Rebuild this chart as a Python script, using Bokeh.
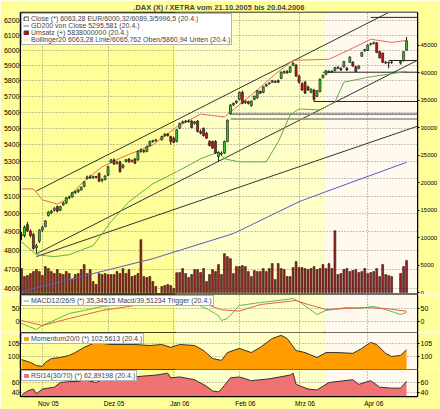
import numpy as np
import pandas as pd
from bokeh.plotting import figure
from bokeh.layouts import column
from bokeh.models import (Range1d, LinearAxis, LinearScale, FixedTicker,
                          NumeralTickFormatter, Legend, LegendItem,
                          BoxAnnotation, Label, ColumnDataSource)
from bokeh.embed import file_html
from bokeh.resources import INLINE

FONT = "Liberation Sans"
TITLE = ".DAX (X) / XETRA vom 21.10.2005 bis 20.04.2006"
START, END = "2005-10-21", "2006-04-20"
HOLIDAYS = ["2005-12-26", "2006-04-14", "2006-04-17"]

# ---------------- daily OHLC (EUR) and turnover (Mio) ----------------
open_ = [4880, 4880, 4940, 4905, 4885, 4815, 4850, 4910, 4930, 4990,
         5005, 5020, 5040, 5020, 5050, 5060, 5090, 5095, 5120, 5125,
         5135, 5155, 5200, 5210, 5205, 5212, 5230, 5190, 5195, 5220,
         5295, 5310, 5290, 5298, 5265, 5300, 5315, 5300, 5315, 5310,
         5360, 5365, 5360, 5395, 5420, 5425, 5430, 5455, 5465, 5450,
         5440, 5420, 5500, 5535, 5540, 5545, 5545, 5530, 5545, 5480,
         5500, 5470, 5420, 5420, 5420, 5330, 5345, 5350, 5420, 5590,
         5645, 5660, 5680, 5725, 5660, 5665, 5640, 5680, 5690, 5730,
         5725, 5765, 5780, 5790, 5795, 5800, 5815, 5850, 5860, 5855,
         5900, 5900, 5830, 5780, 5790, 5760, 5725, 5740, 5700, 5730,
         5820, 5840, 5855, 5860, 5865, 5880, 5880, 5890, 5880, 5920,
         5920, 5890, 5880, 5960, 5995, 6000, 6040, 6045, 6050, 5990,
         5980, 5920, 5915, 5918, 5915, 5930, 6000.32]
high = [4900, 4935, 4955, 4915, 4895, 4835, 4915, 4935, 4965, 5015,
        5022, 5038, 5048, 5045, 5068, 5095, 5102, 5125, 5132, 5140,
        5155, 5185, 5218, 5222, 5218, 5216, 5236, 5200, 5220, 5275,
        5315, 5318, 5302, 5305, 5285, 5315, 5320, 5312, 5322, 5365,
        5378, 5372, 5395, 5425, 5430, 5435, 5455, 5470, 5470, 5455,
        5450, 5495, 5535, 5548, 5552, 5555, 5552, 5545, 5550, 5492,
        5505, 5478, 5428, 5425, 5428, 5360, 5360, 5425, 5555, 5650,
        5660, 5675, 5730, 5735, 5675, 5672, 5675, 5705, 5740, 5738,
        5765, 5780, 5790, 5805, 5802, 5808, 5860, 5866, 5868, 5895,
        5920, 5910, 5840, 5790, 5800, 5768, 5750, 5748, 5740, 5815,
        5840, 5870, 5868, 5870, 5890, 5895, 5888, 5930, 5890, 5960,
        5928, 5898, 5900, 5990, 6010, 6040, 6050, 6058, 6055, 5998,
        5985, 5930, 5925, 5928, 5935, 5995, 6089.3]
low = [4855, 4870, 4900, 4870, 4805, 4785, 4840, 4900, 4925, 4985,
       4998, 5012, 5008, 5015, 5045, 5055, 5082, 5090, 5112, 5118,
       5130, 5150, 5195, 5198, 5200, 5202, 5180, 5178, 5190, 5215,
       5290, 5280, 5282, 5235, 5258, 5295, 5292, 5295, 5285, 5305,
       5352, 5350, 5355, 5390, 5412, 5418, 5425, 5448, 5450, 5400,
       5410, 5415, 5495, 5528, 5532, 5535, 5500, 5522, 5475, 5462,
       5450, 5435, 5390, 5375, 5345, 5300, 5335, 5345, 5415, 5585,
       5638, 5652, 5675, 5650, 5652, 5648, 5635, 5675, 5685, 5715,
       5720, 5760, 5775, 5785, 5785, 5785, 5810, 5845, 5845, 5850,
       5895, 5825, 5780, 5735, 5715, 5735, 5720, 5665, 5695, 5725,
       5815, 5835, 5848, 5850, 5860, 5875, 5862, 5885, 5862, 5915,
       5890, 5855, 5875, 5955, 5990, 5995, 6032, 6040, 5980, 5945,
       5915, 5908, 5880, 5910, 5905, 5925, 5996.5]
close = [4885, 4926, 4905, 4880, 4810, 4825, 4910, 4925, 4960, 5010,
         5015, 5030, 5015, 5040, 5060, 5090, 5095, 5120, 5125, 5135,
         5150, 5180, 5210, 5205, 5212, 5208, 5185, 5195, 5215, 5270,
         5310, 5285, 5298, 5240, 5280, 5310, 5298, 5305, 5290, 5360,
         5370, 5360, 5390, 5420, 5425, 5430, 5450, 5465, 5455, 5420,
         5415, 5490, 5530, 5540, 5545, 5540, 5505, 5540, 5480, 5470,
         5455, 5440, 5395, 5380, 5350, 5355, 5350, 5420, 5550, 5645,
         5655, 5670, 5725, 5655, 5670, 5655, 5670, 5700, 5735, 5720,
         5760, 5775, 5785, 5800, 5790, 5790, 5855, 5860, 5850, 5890,
         5915, 5830, 5790, 5740, 5720, 5740, 5745, 5680, 5735, 5810,
         5835, 5865, 5860, 5855, 5885, 5887, 5870, 5925, 5870, 5955,
         5895, 5860, 5895, 5985, 6005, 6035, 6045, 6050, 5985, 5950,
         5920, 5915, 5920, 5922, 5925, 5990, 6063.28]
volume = [4355, 2903, 3085, 3448, 3810, 4173, 3810, 3085, 4718, 4355,
          3810, 3448, 4173, 3448, 3266, 3810, 3448, 2359, 3266, 3448,
          4173, 5080, 3448, 4173, 1996, 1452, 3448, 3266, 3448, 3266,
          3266, 3266, 3810, 3448, 4355, 3448, 4173, 2903, 3085, 3448,
          9617, 2903, 2722, 2903, 1996, 1089, 1089, 1270, 1452, 1270,
          726, 3600, 3629, 4355, 3448, 2722, 3266, 4173, 4173, 3629,
          4355, 1996, 3266, 4173, 3810, 5080, 3266, 7077, 6532, 6169,
          3448, 4718, 4718, 4900, 4718, 3810, 2903, 3990, 3810, 3810,
          4355, 3810, 4355, 5262, 2359, 5262, 4355, 4173, 2903, 2903,
          4536, 5625, 4536, 4536, 4355, 4173, 4355, 4718, 4173, 4355,
          5080, 4355, 5262, 4355, 11250, 3266, 3448, 4173, 4355, 3810,
          3990, 4173, 3629, 3810, 4355, 3448, 3629, 3810, 4355, 2903,
          5080, 3266, 3085, 2903, 3448, 4718, 5838]

# ---------------- overlays ----------------
gd200_dates = ["2005-10-21", "2005-12-22", "2006-01-30", "2006-03-01", "2006-03-14", "2006-04-20"]
gd200 = [4585, 4756, 4891, 5068, 5125, 5295.58]

boll_up_dates = ["2005-10-21", "2005-10-27", "2005-11-01", "2005-11-08", "2005-11-11", "2005-11-18",
                 "2005-11-29", "2005-12-08", "2005-12-22", "2006-01-03", "2006-01-13", "2006-01-25",
                 "2006-02-07", "2006-02-17", "2006-02-27", "2006-03-15", "2006-03-22", "2006-04-04",
                 "2006-04-13", "2006-04-20"]
boll_up = [5141, 5141, 5078, 5055, 5078, 5170, 5269, 5328, 5399, 5508, 5588, 5570,
           5708, 5842, 5933, 5940, 5986, 6074, 6053, 6065.76]
boll_lo_dates = ["2005-10-21", "2005-10-28", "2005-11-07", "2005-11-14", "2005-11-24", "2005-12-02",
                 "2005-12-12", "2005-12-22", "2006-01-03", "2006-01-13", "2006-01-23", "2006-01-25",
                 "2006-02-01", "2006-02-14", "2006-02-20", "2006-02-24", "2006-03-01", "2006-03-10",
                 "2006-03-17", "2006-03-22", "2006-04-03", "2006-04-12", "2006-04-20"]
boll_lo = [4847, 4777, 4767, 4777, 4826, 4956, 5068, 5170, 5240, 5316, 5357, 5316,
           5298, 5298, 5417, 5582, 5620, 5614, 5663, 5790, 5822, 5842, 5860.94]

# trend lines: (start date, start price, end date, end price)
trend_lines = [("2005-10-28", 5129, "2006-04-12", 6258),
               ("2005-10-28", 4782, "2006-04-26", 5937),
               ("2005-10-28", 4767, "2006-04-26", 5515)]
# horizontal lines: (start date, price, colour)
hlines = [("2006-01-27", 5588, "#8c8c8c"), ("2006-01-27", 5557, "#8c8c8c"),
          ("2006-03-13", 5855, "#222222"), ("2006-03-08", 5667, "#222222"),
          ("2006-04-12", 5932, "#222222"), ("2006-04-04", 6224, "#222222")]

macd_dates = ["2005-10-21", "2005-10-28", "2005-11-01", "2005-11-14", "2005-11-21", "2005-11-29",
              "2005-12-07", "2005-12-14", "2005-12-22", "2005-12-29", "2006-01-04", "2006-01-11",
              "2006-01-17", "2006-01-23", "2006-01-24", "2006-01-26", "2006-02-01", "2006-02-10",
              "2006-02-20", "2006-02-27", "2006-03-02", "2006-03-09", "2006-03-14", "2006-03-23",
              "2006-03-29", "2006-04-05", "2006-04-12", "2006-04-18", "2006-04-20"]
macd = [-7.7, -30.8, -15.4, 30.8, 42.3, 57.7, 65.4, 69.2, 73, 73, 73, 69, 50, 23, 4, 11.5,
        61.5, 73, 80.8, 88.5, 69, 27, 42.3, 53.8, 50, 57.7, 42.3, 27, 35.35]
trig_dates = ["2005-10-21", "2005-11-01", "2005-11-14", "2005-11-29", "2005-12-14", "2005-12-29",
              "2006-01-11", "2006-01-17", "2006-01-24", "2006-02-01", "2006-02-10", "2006-02-28",
              "2006-03-06", "2006-03-14", "2006-03-23", "2006-03-31", "2006-04-11", "2006-04-20"]
trig = [3.8, -15.4, 11.5, 42.3, 61.5, 69, 73, 66, 45, 40, 65, 80.8, 65.4, 46, 50, 53.8, 50, 39.51]

mom_dates = ["2005-10-21", "2005-10-26", "2005-10-28", "2005-11-01", "2005-11-02", "2005-11-04",
             "2005-11-09", "2005-11-14", "2005-11-16", "2005-11-21", "2005-11-24", "2005-11-29",
             "2005-12-02", "2005-12-08", "2005-12-14", "2005-12-21", "2005-12-27", "2005-12-30",
             "2006-01-04", "2006-01-11", "2006-01-16", "2006-01-19", "2006-01-24", "2006-01-26",
             "2006-02-01", "2006-02-07", "2006-02-10", "2006-02-16", "2006-02-21", "2006-02-23",
             "2006-02-28", "2006-03-03", "2006-03-09", "2006-03-14", "2006-03-20", "2006-03-27",
             "2006-03-30", "2006-04-04", "2006-04-06", "2006-04-11", "2006-04-13", "2006-04-18",
             "2006-04-20"]
mom = [98.8, 97.7, 96.5, 96.2, 97.7, 99.2, 99.6, 100.4, 101.5, 103.5, 105, 105,
       104.6, 104.6, 104.6, 104.2, 104.6, 103.5, 104.6, 104.2, 102.3, 99.2, 98.5, 101.5,
       103.1, 101.5, 103.5, 106.9, 108.1, 106.9, 102.3, 101.5, 99.6, 101.5, 101.5, 101.2,
       103.1, 105.4, 104.6, 101.2, 100, 100.4, 102.56]

rsi_dates = ["2005-10-21", "2005-10-25", "2005-10-27", "2005-10-28", "2005-11-01", "2005-11-07",
             "2005-11-09", "2005-11-14", "2005-11-17", "2005-11-21", "2005-11-25", "2005-11-29",
             "2005-12-02", "2005-12-09", "2005-12-14", "2005-12-19", "2005-12-23", "2005-12-29",
             "2005-12-30", "2006-01-04", "2006-01-11", "2006-01-17", "2006-01-19", "2006-01-23",
             "2006-01-24", "2006-01-27", "2006-02-01", "2006-02-07", "2006-02-15", "2006-02-24",
             "2006-02-27", "2006-02-28", "2006-03-06", "2006-03-09", "2006-03-15", "2006-03-27",
             "2006-03-29", "2006-04-04", "2006-04-07", "2006-04-13", "2006-04-18", "2006-04-20"]
rsi = [34.4, 43.7, 47.5, 38, 47.5, 51.2, 60.6, 62.4, 62.4, 66.2, 60.6, 66.2,
       69.9, 69.9, 71.8, 73.6, 75.5, 79.3, 69.9, 71.8, 66.2, 53.1, 43.7, 41.9,
       47.5, 69.9, 71.8, 64.3, 68, 75.5, 79.3, 56.8, 47.5, 45.6, 60.6, 66.2,
       56.8, 64.3, 51.2, 49.3, 49.3, 62.89]

month_dates = ["2005-11-01", "2005-12-01", "2006-01-02", "2006-02-01", "2006-03-01", "2006-04-03"]
month_labels = ["Nov 05", "Dez 05", "Jan 06", "Feb 06", "Mrz 06", "Apr 06"]
price_ticks = list(range(4600, 6201, 100))
vol_ticks = list(range(0, 45001, 5000))

band_starts = ["2005-10-21", "2006-01-03", "2006-03-14"]
BAND = ["#FFFF99", "#FFFFC8", "#FFF9EE"]

LEG_CLOSE = "Close (*) 6063,28 EUR/6000,32/6089,3/5996,5 (20.4.)"
LEG_GD = "GD200 von Close 5295,581 (20.4.)"
LEG_VOL = "Umsatz (+) 5838000000 (20.4.)"
LEG_BB = "Bollinger20 6063,28 Linie/6065,762 Oben/5860,94 Unten (20.4.)"
LEG_MACD = "MACD12/26/9 (*) 35,34515 Macd/39,51234 Trigger (20.4.)"
LEG_MOM = "Momentum20/0 (*) 102,5613 (20.4.)"
LEG_RSI = "RSI14(30/70) (*) 62,89198 (20.4.)"


def xpos(dates):
    d = pd.to_datetime(pd.Index(dates)).values.astype("datetime64[D]")
    return np.busday_count(np.datetime64(START, "D"), d).astype(float)


days = pd.bdate_range(START, END)
days = days[~days.isin(pd.to_datetime(HOLIDAYS))]
x = xpos(days)
assert len(x) == len(open_) == len(high) == len(low) == len(close) == len(volume)

XR = Range1d(-0.33, 132.67)
X_END = XR.end
GRID = dict(grid_line_color="#8a8a8a", grid_line_dash="1 2", grid_line_width=1)
month_x = list(xpos(month_dates))
band_x = [v - 0.5 for v in xpos(band_starts)]
band_edges = [-1000.0] + band_x[1:] + [1000.0]
NAN = [np.nan]


def style_axis(ax, size="7px", tick=1, standoff=0):
    ax.major_label_text_font = FONT
    ax.major_label_text_font_size = size
    ax.major_label_text_color = "black"
    ax.axis_line_color = "black"
    ax.major_tick_line_color = "black"
    ax.major_tick_out = tick
    ax.major_tick_in = 0
    ax.minor_tick_out = 0
    ax.minor_tick_in = 0
    ax.major_label_standoff = standoff
    ax.level = "annotation"


def make_panel(height, y_range, ticks, top, bottom, ylog=False, xaxis=False, rticks=None):
    kw = dict(width=440, height=height, x_range=XR, y_range=y_range, toolbar_location=None,
              output_backend="svg", min_border_left=17, min_border_right=20,
              min_border_top=top, min_border_bottom=bottom,
              background_fill_color=BAND[0], border_fill_color=BAND[0],
              outline_line_color="black", outline_line_width=1.5,
              x_axis_location="below" if xaxis else None)
    if ylog:
        kw["y_axis_type"] = "log"
    p = figure(**kw)
    tk = FixedTicker(ticks=ticks)
    p.yaxis[0].ticker = tk
    p.yaxis[0].formatter = NumeralTickFormatter(format="0")
    style_axis(p.yaxis[0])
    p.ygrid.ticker = tk
    p.xgrid.ticker = FixedTicker(ticks=month_x)
    for g in (p.xgrid[0], p.ygrid[0]):
        for k, v in GRID.items():
            setattr(g, k, v)
    big_top = 1e7 if ylog else 1e5
    big_bot = 1e-3 if ylog else -1e5
    for i in range(3):
        p.add_layout(BoxAnnotation(left=band_edges[i], right=band_edges[i + 1],
                                   fill_color=BAND[i], fill_alpha=1, line_alpha=0,
                                   level="image"))
    for i in (1, 2):
        for (t, b) in ((big_top, y_range.end), (y_range.start, big_bot)):
            p.add_layout(BoxAnnotation(left=band_edges[i], right=min(band_edges[i + 1], X_END),
                                       top=t, bottom=b, fill_color=BAND[i], fill_alpha=1,
                                       line_alpha=0, level="guide"))
    p.add_layout(BoxAnnotation(left=X_END, right=1e4, top=big_top, bottom=big_bot,
                               fill_color=BAND[2], fill_alpha=1, line_alpha=0, level="guide"))
    if rticks is not None:
        ra = LinearAxis(ticker=FixedTicker(ticks=rticks),
                        formatter=NumeralTickFormatter(format="0"))
        style_axis(ra, "7px", 2, 1)
        p.add_layout(ra, "right")
    return p


def legend(items, loc="top_left"):
    return Legend(items=items, location=loc, label_text_font=FONT, label_text_font_size="7px",
                  label_text_line_height=0.85,
                  glyph_width=6, glyph_height=5, label_height=5, label_standoff=2,
                  spacing=0, padding=1, margin=1, border_line_color="#666666",
                  border_line_width=1, background_fill_color="white", background_fill_alpha=1)


# ---------------- price panel ----------------
PR = Range1d(4575, 6258)
p1 = make_panel(294, PR, price_ticks, 10, 1, ylog=True)
p1.extra_y_ranges = {"vol": Range1d(-181, 50988)}
p1.extra_y_scales = {"vol": LinearScale()}
va = LinearAxis(y_range_name="vol", ticker=FixedTicker(ticks=vol_ticks),
                formatter=NumeralTickFormatter(format="0"))
style_axis(va, "6px", 2, 1)
p1.add_layout(va, "right")

p1.title.text = TITLE
p1.title.align = "center"
p1.title.offset = 5
p1.title.text_font = FONT
p1.title.text_font_size = "7.5px"
p1.title.text_font_style = "bold"
p1.title.standoff = 1

src = ColumnDataSource(dict(
    x=x, o=open_, h=high, l=low, c=close, v=volume,
    top=np.maximum(open_, close), bot=np.minimum(open_, close),
    col=["#33CC33" if c >= o else "#D01010" for o, c in zip(open_, close)]))

p1.vbar(x="x", width=0.62, top="v", bottom=0, source=src, y_range_name="vol",
        fill_color="#9A2A22", line_color="#2A0A08", line_width=0.6)

gd_r = p1.line(xpos(gd200_dates), gd200, line_color="#5A5ACD", line_width=1)
for d0, v0, d1, v1 in trend_lines:
    p1.line(xpos([d0, d1]), [v0, v1], line_color="#333333", line_width=1)
for d0, v, c in hlines:
    p1.line([xpos([d0])[0], X_END], [v, v], line_color=c, line_width=1.6 if c != "#222222" else 1)
p1.line(xpos(boll_up_dates), boll_up, line_color="#E06A55", line_width=1)
p1.line(xpos(boll_lo_dates), boll_lo, line_color="#5FAF45", line_width=1)

p1.segment(x0="x", y0="h", x1="x", y1="l", source=src, line_color="#1a1a1a", line_width=1)
p1.vbar(x="x", width=0.66, top="top", bottom="bot", source=src, fill_color="col",
        line_color="#202020", line_width=0.7)

# legend swatches (NaN data: nothing drawn in the chart, only in the legend)
sw_close = p1.quad(left=NAN, right=NAN, top=NAN, bottom=NAN, fill_color="white",
                   line_color="#444444")
sw_vol = p1.quad(left=NAN, right=NAN, top=NAN, bottom=NAN, fill_color="#E00000",
                 line_color="#444444")
sw_bb = p1.line(x=NAN, y=NAN, line_color="#F5EC90", line_width=1.5)
p1.add_layout(legend([LegendItem(label=LEG_CLOSE, renderers=[sw_close]),
                      LegendItem(label=LEG_GD, renderers=[gd_r]),
                      LegendItem(label=LEG_VOL, renderers=[sw_vol]),
                      LegendItem(label=LEG_BB, renderers=[sw_bb])]))

p1.add_layout(Label(x=X_END, y=PR.end, x_offset=1, text="in Mio", text_font=FONT,
                    text_font_size="6px", text_baseline="top", text_align="left",
                    border_line_color="#555555", background_fill_color="white",
                    level="annotation"))

# ---------------- MACD ----------------
p2 = make_panel(38, Range1d(-42.3, 103.8), [0, 50], 0, 0, rticks=[0, 50])
m_r = p2.line(xpos(macd_dates), macd, line_color="#5CB85C", line_width=1)
p2.line(xpos(trig_dates), trig, line_color="#E0604A", line_width=1)
p2.add_layout(legend([LegendItem(label=LEG_MACD, renderers=[m_r])]))

# ---------------- Momentum ----------------
MR = Range1d(95, 109.2)
p3 = make_panel(37, MR, [100, 105], 0, 0, rticks=[100, 105])
mo_r = p3.varea(x=xpos(mom_dates), y1=MR.start, y2=mom, fill_color="#FF9C00")
p3.line(xpos(mom_dates), mom, line_color="#333333", line_width=1)
p3.add_layout(legend([LegendItem(label=LEG_MOM, renderers=[mo_r])]))

# ---------------- RSI ----------------
RR = Range1d(32.5, 86.7)
p4 = make_panel(40, RR, [40, 60], 0, 12, xaxis=True, rticks=[40, 60])
rs_r = p4.varea(x=xpos(rsi_dates), y1=RR.start, y2=rsi, fill_color="#F07272")
p4.line(xpos(rsi_dates), rsi, line_color="#333333", line_width=1)
p4.add_layout(legend([LegendItem(label=LEG_RSI, renderers=[rs_r])]))
label_x = [m + 2 for m in month_x]
xa = p4.xaxis[0]
xa.ticker = FixedTicker(ticks=label_x)
xa.major_label_overrides = {v: t for v, t in zip(label_x, month_labels)}
style_axis(xa, "6.5px", 0, 3)

layout = column(p1, p2, p3, p4, spacing=0)
open("out.html", "w").write(file_html(layout, INLINE))
